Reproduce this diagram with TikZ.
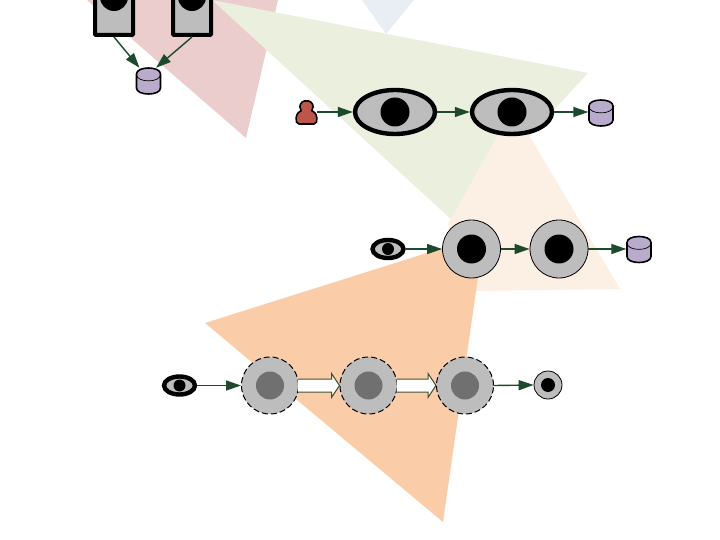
\documentclass[tikz,border=0pt]{standalone}
\usetikzlibrary{arrows.meta,shapes.geometric,calc}
\definecolor{arr}{HTML}{1D4A2C}
\definecolor{nodegray}{HTML}{BDBDBD}
\definecolor{dbfill}{HTML}{B9ABCC}
\definecolor{innerg}{HTML}{707070}
\definecolor{hollowline}{HTML}{3F5030}
\definecolor{wedgered}{RGB}{235,205,205}
\definecolor{wedgeblue}{RGB}{233,237,244}
\definecolor{wedgegreen}{RGB}{234,239,222}
\definecolor{wedgepeach}{RGB}{252,239,227}
\definecolor{wedgeorange}{RGB}{250,204,168}
\definecolor{actorred}{RGB}{190,85,75}
\tikzset{
 conn/.style={draw=arr,line width=1.4pt,-{Triangle[length=15pt,width=10pt,color=arr]}},
 eyeL/.style={ellipse,draw=black,line width=4.4pt,fill=nodegray,minimum width=80pt,minimum height=44pt,inner sep=0pt},
 eyeS/.style={ellipse,draw=black,line width=4.4pt,fill=nodegray,minimum width=31pt,minimum height=18pt,inner sep=0pt},
 circ/.style={circle,draw=black,line width=0.8pt,fill=nodegray,minimum size=58pt,inner sep=0pt},
 circd/.style={circle,draw=black,dash pattern=on 6pt off 3pt,line width=1pt,fill=nodegray,minimum size=57pt,inner sep=0pt},
 rectn/.style={rectangle,draw=black,line width=4pt,fill=nodegray,rounded corners=1pt,inner sep=0pt,minimum width=38pt,minimum height=50pt},
 pupil/.style={circle,fill=black,inner sep=0pt},
 ipupil/.style={circle,fill=innerg,inner sep=0pt},
 dbnode/.style={rectangle,minimum width=25pt,minimum height=26pt,inner sep=0pt},
 actornode/.style={rectangle,minimum width=21pt,minimum height=23pt,inner sep=0pt},
}
\newcommand{\dbdraw}[1]{%
 \draw[black,line width=1.6pt,fill=dbfill,rounded corners=0.5pt] ($(#1)+(-12,-6.5)$) -- ($(#1)+(-12,6.5)$)
   .. controls ($(#1)+(-12,15)$) and ($(#1)+(12,15)$) .. ($(#1)+(12,6.5)$) -- ($(#1)+(12,-6.5)$)
   .. controls ($(#1)+(12,-15)$) and ($(#1)+(-12,-15)$) .. cycle;
 \draw[black,line width=0.7pt] ($(#1)+(-12,-6.5)$) .. controls ($(#1)+(-12,2)$) and ($(#1)+(12,2)$) .. ($(#1)+(12,-6.5)$);
}
\newcommand{\hollowarrow}[2]{%
 \path[fill=white,draw=hollowline,line width=1pt]
  ($(#1.east)+(-1,-6.5)$) -- ($(#2.west)+(-8,-6.5)$) -- ($(#2.west)+(-8,-12)$) -- ($(#2.west)+(0,0)$) -- ($(#2.west)+(-8,12)$) -- ($(#2.west)+(-8,6.5)$) -- ($(#1.east)+(-1,6.5)$);
}
\begin{document}
\begin{tikzpicture}[x=1pt,y=-1pt]
\useasboundingbox (0,0) rectangle (720,540);
\fill[white] (0,0) rectangle (720,540);
\clip (0,0) rectangle (720,540);
% background wedges
\fill[wedgered] (87,0) -- (246,138) -- (278,0) -- cycle;
\fill[wedgeblue] (362,0) -- (386,34) -- (414,0) -- cycle;
\fill[wedgegreen] (212,0) -- (588,73) -- (452,220) -- cycle;
\fill[wedgepeach] (513,108) -- (620,289) -- (475,291) -- (448,224) -- cycle;
\fill[wedgeorange] (205,323) -- (484,235) -- (443,522) -- cycle;
% top row
\node[rectn] (ra) at (114,10) {};
\node[rectn] (rb) at (192,10) {};
\node[pupil,minimum size=28pt] (pa) at (114,-3) {};
\node[pupil,minimum size=28pt] (pb) at (192,-3) {};
\node[dbnode] (d1) at (148.5,81) {};
\dbdraw{d1}
\draw[conn] (ra.south) -- ($(d1.north)+(-9,0)$);
\draw[conn] (rb.south) -- ($(d1.north)+(7.5,0)$);
% row 2
\node[eyeL] (e1) at (395,112) {};
\node[eyeL] (e2) at (512,112) {};
\node[pupil,minimum size=29pt] (pe1) at (395,112) {};
\node[pupil,minimum size=29pt] (pe2) at (512,112) {};
\node[dbnode] (d2) at (601,113) {};
\dbdraw{d2}
\node[actornode] (actor) at (306.5,112) {};
\draw[fill=actorred,draw=black,line width=1.6pt,rounded corners=2pt] (297,124) .. controls (295,116) and (298,112) .. (302,111) .. controls (298,106) and (302,101) .. (306.5,101) .. controls (311,101) and (315,106) .. (311,111) .. controls (315,112) and (318,116) .. (316,124) -- cycle;
\draw[conn] (actor.east) -- (e1.west);
\draw[conn] (e1.east) -- (e2.west);
\draw[conn] (e2.east) -- ($(d2.west)+(0,-1)$);
% row 3
\node[eyeS] (s1) at (388,249) {};
\node[pupil,minimum size=12pt] (ps1) at (388,249) {};
\node[circ] (c1) at (471.5,249) {};
\node[circ] (c2) at (559,249) {};
\node[pupil,minimum size=29pt] (pc1) at (471.5,249) {};
\node[pupil,minimum size=29pt] (pc2) at (559,249) {};
\node[dbnode] (d3) at (639,249.5) {};
\dbdraw{d3}
\draw[conn] (s1.east) -- (c1.west);
\draw[conn] (c1.east) -- (c2.west);
\draw[conn] (c2.east) -- ($(d3.west)+(0,-0.5)$);
% row 4
\node[eyeS] (s2) at (179.5,385.5) {};
\node[pupil,minimum size=12pt] (ps2) at (179.5,385.5) {};
\node[circd] (k1) at (270,385.5) {};
\node[circd] (k2) at (368.5,385.5) {};
\node[circd] (k3) at (465,385.5) {};
\node[ipupil,minimum size=28pt] (pk1) at (270,385.5) {};
\node[ipupil,minimum size=28pt] (pk2) at (368.5,385.5) {};
\node[ipupil,minimum size=28pt] (pk3) at (465,385.5) {};
\node[circle,draw=black,line width=0.8pt,fill=nodegray,minimum size=28pt,inner sep=0pt] (t) at (548,385) {};
\node[pupil,minimum size=14pt] (pt) at (548,385) {};
\draw[conn] (s2.east) -- (k1.west);
\draw[conn] (k3.east) -- (t.west);
\hollowarrow{k1}{k2}
\hollowarrow{k2}{k3}
\end{tikzpicture}
\end{document}
